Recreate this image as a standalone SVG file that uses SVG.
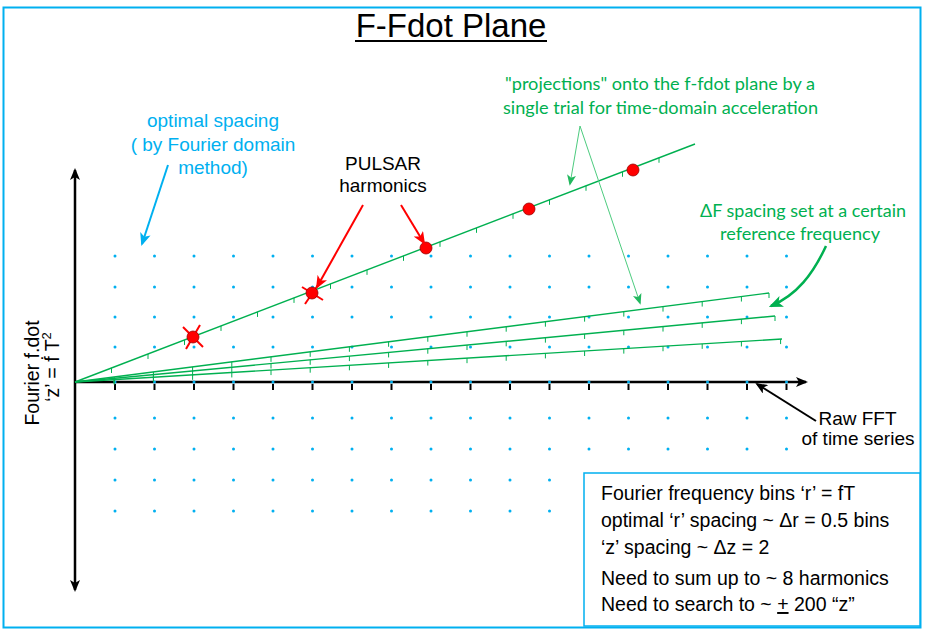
<svg xmlns="http://www.w3.org/2000/svg" width="927" height="637" viewBox="0 0 927 637">
<defs>
<style>
.t{font-family:"Liberation Sans",Arial,sans-serif;font-size:19px;fill:#000}
.c{fill:#00B0F0}
.g{font-family:Lato,"Open Sans",sans-serif;font-size:17px;fill:#00B050}
.lg{font-size:19.5px}
.dots{stroke:#00B0F0;stroke-width:3;stroke-linecap:round;stroke-dasharray:0 39.5}
.gl{stroke:#00B050;stroke-width:1.4;fill:none}
.gt{stroke:#00B050;stroke-width:1;fill:none}
.rd{fill:#FF0000;stroke:#9A0000;stroke-width:0.8}
.rx{stroke:#FF0000;stroke-width:2}
</style>
<marker id="ak" viewBox="0 0 12 10" refX="10" refY="5" markerWidth="12" markerHeight="10" markerUnits="userSpaceOnUse" orient="auto-start-reverse"><path d="M0,0L12,5L0,10L3,5z" fill="#000"/></marker>
<marker id="ar" viewBox="0 0 12 10" refX="10" refY="5" markerWidth="13" markerHeight="11" markerUnits="userSpaceOnUse" orient="auto"><path d="M0,0L12,5L0,10L3,5z" fill="#FF0000"/></marker>
<marker id="ac" viewBox="0 0 12 10" refX="10" refY="5" markerWidth="13" markerHeight="11" markerUnits="userSpaceOnUse" orient="auto"><path d="M0,0L12,5L0,10L3,5z" fill="#00B0F0"/></marker>
<marker id="ag" viewBox="0 0 12 10" refX="10" refY="5" markerWidth="11" markerHeight="9" markerUnits="userSpaceOnUse" orient="auto"><path d="M0,0L12,5L0,10L3,5z" fill="#22B85E"/></marker>
<marker id="ag2" viewBox="0 0 12 10" refX="10" refY="5" markerWidth="14" markerHeight="12" markerUnits="userSpaceOnUse" orient="auto"><path d="M0,0L12,5L0,10L3,5z" fill="#00B050"/></marker>
</defs>
<rect x="0" y="0" width="927" height="637" fill="#fff"/>
<rect id="frame" x="3.5" y="7.5" width="917" height="620" fill="none" stroke="#00B0F0" stroke-width="2"/>

<g id="title">
<text x="451" y="37" text-anchor="middle" style="font-family:'Liberation Sans',Arial,sans-serif;font-size:33px" fill="#000">F-Fdot Plane</text>
<line x1="355" y1="41" x2="547" y2="41" stroke="#000" stroke-width="2"/>
</g>

<g id="grid">
<line class="dots" x1="115" y1="256" x2="787" y2="256"/>
<line class="dots" x1="115" y1="287" x2="787" y2="287"/>
<line class="dots" x1="115" y1="317" x2="787" y2="317"/>
<line class="dots" x1="115" y1="347" x2="787" y2="347"/>
<line class="dots" x1="115" y1="418" x2="787" y2="418"/>
<line class="dots" x1="115" y1="449" x2="787" y2="449"/>
<line class="dots" x1="115" y1="480" x2="787" y2="480"/>
<line class="dots" x1="115" y1="511" x2="787" y2="511"/>
</g>

<g id="axes">
<line x1="75" y1="170" x2="75" y2="590" stroke="#000" stroke-width="2.5" marker-start="url(#ak)" marker-end="url(#ak)"/>
<line x1="75" y1="382" x2="806" y2="382" stroke="#000" stroke-width="2.5" marker-end="url(#ak)"/>
<path d="M115 384v6m39.5 -6v6m39.5 -6v6m39.5 -6v6m39.5 -6v6m39.5 -6v6m39.5 -6v6m39.5 -6v6m39.5 -6v6m39.5 -6v6m39.5 -6v6m39.5 -6v6m39.5 -6v6m39.5 -6v6m39.5 -6v6m39.5 -6v6m39.5 -6v6m39.5 -6v6" stroke="#000" stroke-width="2" fill="none"/>
<line class="dots" x1="115" y1="382" x2="787" y2="382"/>
</g>

<g id="axis-label">
<text class="t" transform="translate(38.5,373) rotate(-90)" text-anchor="middle" style="font-size:19.5px">Fourier f.dot</text>
<text class="t" transform="translate(59,367) rotate(-90)" text-anchor="middle" style="font-size:19.5px">‘z’ = ḟ T<tspan dy="-8" style="font-size:13px">2</tspan></text>
</g>

<g id="trial-lines">
<line class="gl" x1="75" y1="382" x2="695" y2="144"/>
<path class="gt" d="M111.5 367.98v5m36.5 -19.016v5m36.5 -19.016v5m36.5 -19.016v5m36.5 -19.016v5m36.5 -19.016v5m36.5 -19.016v5m36.5 -19.016v5m36.5 -19.016v5m36.5 -19.016v5m36.5 -19.016v5m36.5 -19.016v5m36.5 -19.016v5m36.5 -19.016v5m36.5 -19.016v5m36.5 -19.016v5"/>
<line class="gl" x1="75" y1="382" x2="769" y2="293"/>
<path class="gt" d="M114.2 376.97v5m39.2 -10.027v5m39.2 -10.027v5m39.2 -10.027v5m39.2 -10.027v5m39.2 -10.027v5m39.2 -10.027v5m39.2 -10.027v5m39.2 -10.027v5m39.2 -10.027v5m39.2 -10.027v5m39.2 -10.027v5m39.2 -10.027v5m39.2 -10.027v5m39.2 -10.027v5m39.2 -10.027v5m39.2 -10.027v5M769 293v5"/>
<line class="gl" x1="75" y1="382" x2="775" y2="316"/>
<path class="gt" d="M114.2 378.3v5m39.2 -8.696v5m39.2 -8.696v5m39.2 -8.696v5m39.2 -8.696v5m39.2 -8.696v5m39.2 -8.696v5m39.2 -8.696v5m39.2 -8.696v5m39.2 -8.696v5m39.2 -8.696v5m39.2 -8.696v5m39.2 -8.696v5m39.2 -8.696v5m39.2 -8.696v5m39.2 -8.696v5m39.2 -8.696v5M775 316v5"/>
<line class="gl" x1="75" y1="382" x2="782" y2="339"/>
<path class="gt" d="M114.2 379.62v5m39.2 -7.384v5m39.2 -7.384v5m39.2 -7.384v5m39.2 -7.384v5m39.2 -7.384v5m39.2 -7.384v5m39.2 -7.384v5m39.2 -7.384v5m39.2 -7.384v5m39.2 -7.384v5m39.2 -7.384v5m39.2 -7.384v5m39.2 -7.384v5m39.2 -7.384v5m39.2 -7.384v5m39.2 -7.384v5m39.2 -7.384v5"/>
</g>

<g id="harmonics">
<line class="rx" x1="183" y1="327" x2="203" y2="347"/>
<line class="rx" x1="186" y1="349" x2="200" y2="325"/>
<circle class="rd" cx="193" cy="337" r="6"/>
<line class="rx" x1="305" y1="304" x2="320" y2="282"/>
<line class="rx" x1="302" y1="287" x2="323" y2="300"/>
<circle class="rd" cx="312" cy="293" r="6"/>
<circle class="rd" cx="426" cy="248" r="6"/>
<circle class="rd" cx="529" cy="209" r="6"/>
<circle class="rd" cx="633" cy="170" r="6"/>
</g>

<g id="connectors">
<line x1="168" y1="165" x2="142" y2="244" stroke="#00B0F0" stroke-width="2" marker-end="url(#ac)"/>
<line x1="363" y1="205" x2="317" y2="287" stroke="#FF0000" stroke-width="2" marker-end="url(#ar)"/>
<line x1="401" y1="205" x2="424" y2="243" stroke="#FF0000" stroke-width="2" marker-end="url(#ar)"/>
<line x1="580" y1="126" x2="570" y2="184" stroke="#4CCB7E" stroke-width="1" marker-end="url(#ag)"/>
<line x1="580" y1="126" x2="640" y2="303" stroke="#4CCB7E" stroke-width="1" marker-end="url(#ag)"/>
<path d="M826 246C813 274 797 295 771 306" fill="none" stroke="#00B050" stroke-width="2.5" marker-end="url(#ag2)"/>
<line x1="816" y1="421" x2="757" y2="384" stroke="#000" stroke-width="2" marker-end="url(#ak)"/>
</g>

<g id="label-optimal">
<text class="t c" x="213" y="127" text-anchor="middle">optimal spacing</text>
<text class="t c" x="213" y="151" text-anchor="middle">( by Fourier domain</text>
<text class="t c" x="213" y="174" text-anchor="middle">method)</text>
</g>
<g id="label-pulsar">
<text class="t" x="383" y="170" text-anchor="middle">PULSAR</text>
<text class="t" x="383" y="192" text-anchor="middle">harmonics</text>
</g>
<g id="label-projections">
<text class="g" x="505" y="90" textLength="310" lengthAdjust="spacingAndGlyphs">"projections" onto the f-fdot plane by a</text>
<text class="g" x="503" y="114" textLength="315" lengthAdjust="spacingAndGlyphs">single trial for time-domain acceleration</text>
</g>
<g id="label-deltaF">
<text class="g" x="700" y="217" textLength="206" lengthAdjust="spacingAndGlyphs">ΔF spacing set at a certain</text>
<text class="g" x="720" y="240" textLength="160" lengthAdjust="spacingAndGlyphs">reference frequency</text>
</g>
<g id="label-rawfft">
<text class="t" x="857.5" y="425" text-anchor="middle">Raw FFT</text>
<text class="t" x="858" y="445" text-anchor="middle">of time series</text>
</g>

<g id="legend">
<rect x="584" y="473" width="336" height="153" fill="#fff" stroke="#00B0F0" stroke-width="1.5"/>
<text class="t lg" x="601" y="500">Fourier frequency bins ‘r’ = fT</text>
<text class="t lg" x="601" y="527">optimal ‘r’ spacing ~ Δr = 0.5 bins</text>
<text class="t lg" x="601" y="554">‘z’ spacing ~ Δz = 2</text>
<text class="t lg" x="601" y="585">Need to sum up to ~ 8 harmonics</text>
<text class="t lg" x="601" y="611">Need to search to ~ <tspan text-decoration="underline">+</tspan> 200 “z”</text>
</g>
</svg>
